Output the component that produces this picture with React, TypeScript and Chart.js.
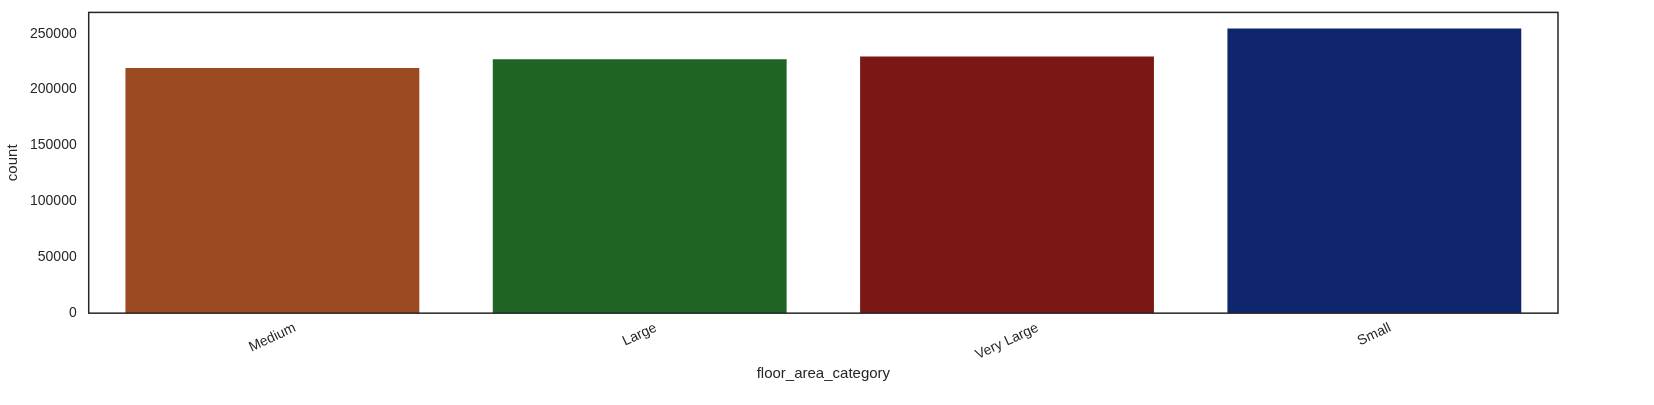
import React, { useEffect, useRef } from 'react';
import { Chart, registerables } from 'chart.js';

Chart.register(...registerables);

const categories = ['Medium', 'Large', 'Very Large', 'Small'];
const counts = [219200, 227000, 229600, 254700];
const barColors = ['#9C4A22', '#1F6325', '#7A1815', '#0F266E'];
const yTicks = [0, 50000, 100000, 150000, 200000, 250000];

const FONT = '"Liberation Sans", Arial, sans-serif';

const frame = {
  id: 'frame',
  afterDraw(chart: Chart) {
    const { ctx, chartArea: a } = chart;
    ctx.save();
    ctx.strokeStyle = '#262626';
    ctx.lineWidth = 1.5;
    ctx.strokeRect(a.left, a.top, a.right - a.left, a.bottom - a.top);
    // centred, rotated category labels (matplotlib style)
    const x = chart.scales.x;
    ctx.fillStyle = '#262626';
    ctx.font = `14px ${FONT}`;
    ctx.textAlign = 'center';
    ctx.textBaseline = 'middle';
    categories.forEach((c, i) => {
      const w = ctx.measureText(c).width;
      const h = w / 2 * Math.sin(25 * Math.PI / 180) + 14;
      ctx.save();
      ctx.translate(x.getPixelForValue(i), a.bottom + h);
      ctx.rotate(-25 * Math.PI / 180);
      ctx.fillText(c, 0, 0);
      ctx.restore();
    });
    ctx.restore();
  },
};

export default function App() {
  const canvasRef = useRef<HTMLCanvasElement>(null);

  useEffect(() => {
    if (!canvasRef.current) return;
    const font = { family: FONT, size: 14 };
    const chart = new Chart(canvasRef.current, {
      type: 'bar',
      data: {
        labels: categories,
        datasets: [{ data: counts, backgroundColor: barColors, barPercentage: 0.8, categoryPercentage: 1 }],
      },
      options: {
        animation: false,
        responsive: false,
        layout: { padding: { top: 0, right: 96, left: 0, bottom: 22 } },
        plugins: { legend: { display: false }, tooltip: { enabled: false } },
        scales: {
          x: {
            grid: { display: false },
            border: { display: false },
            ticks: { color: 'rgba(0,0,0,0)', font, minRotation: 25, maxRotation: 25, padding: 0 },
            title: { display: true, text: 'floor_area_category', color: '#262626', font: { ...font, size: 15 }, padding: { top: 0, bottom: 0 } },
          },
          y: {
            min: 0,
            max: 269000,
            grid: { display: false },
            border: { display: false },
            afterBuildTicks: (axis: any) => { axis.ticks = yTicks.map(v => ({ value: v })); },
            ticks: { color: '#262626', font, padding: 4, callback: (v: any) => String(v) },
            title: { display: true, text: 'count', color: '#262626', font: { ...font, size: 15 } },
          },
        },
      },
      plugins: [frame],
    } as any);
    return () => chart.destroy();
  }, []);

  return (
    <div style={{ position: 'fixed', left: 0, top: 0, width: 1654, height: 405, background: '#fff' }}>
      <canvas ref={canvasRef} width={1654} height={405} />
    </div>
  );
}
